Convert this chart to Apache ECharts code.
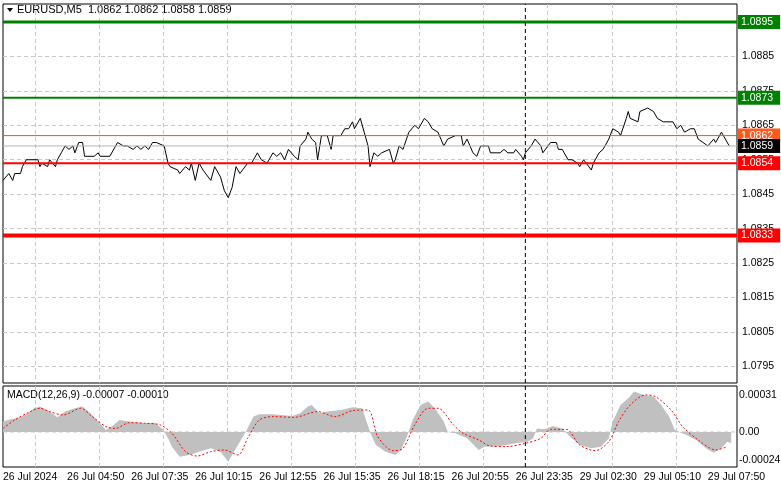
<!DOCTYPE html>
<html><head><meta charset="utf-8">
<script src="https://cdn.jsdelivr.net/npm/echarts@6/dist/echarts.min.js"></script>
<style>html,body{margin:0;padding:0;background:#fff}#c{width:781px;height:489px}</style>
</head><body><div id="c"></div>
<script>
const priceBars=[0,3,5,6,9,10,12,18,19,20,23,24,27,28,30,32,34,36,37,39,41,42,47,49,50,55,59,62,64,67,69,71,73,75,77,79,83,85,86,90,91,94,96,97,99,101,103,107,109,112,113,114,116,118,120,122,126,128,131,133,136,139,141,143,145,147,150,152,153,156,157,159,161,162,164,167,169,170,174,176,178,180,181,184,186,188,189,191,193,195,199,201,202,204,206,209,212,214,217,219,221,224,227,229,233,236,237,239,242,244,246,250,251,256,258,260,263,264,267,268,269,272,274,277,278,282,285,286,288,291,293,296,297,299,303,304,307,309,312,314,317,318,321,322,323,327,328,332,335,336,337,340,345,347,349,351,354,356,358,359,363,366,367,370,371,374];
const prices=[1.0849,1.0851,1.0849,1.0851,1.0851,1.0853,1.0855,1.0855,1.0853,1.0854,1.0853,1.0855,1.0853,1.0855,1.0857,1.0859,1.0858,1.0859,1.0857,1.0860,1.0860,1.0856,1.0856,1.0857,1.0856,1.0856,1.0860,1.0859,1.0859,1.0858,1.0859,1.0858,1.0859,1.0858,1.0860,1.0860,1.0859,1.0854,1.0853,1.0852,1.0851,1.0853,1.0852,1.0854,1.0849,1.0854,1.0852,1.0849,1.0853,1.0850,1.0848,1.0846,1.0844,1.0847,1.0853,1.0851,1.0854,1.0854,1.0857,1.0855,1.0854,1.0857,1.0856,1.0857,1.0855,1.0858,1.0856,1.0855,1.0859,1.0861,1.0863,1.0861,1.0860,1.0855,1.0862,1.0862,1.0858,1.0862,1.0862,1.0864,1.0864,1.0866,1.0864,1.0867,1.0863,1.0859,1.0853,1.0857,1.0856,1.0857,1.0858,1.0854,1.0855,1.0859,1.0858,1.0863,1.0865,1.0864,1.0867,1.0866,1.0864,1.0863,1.0859,1.0861,1.0862,1.0862,1.0859,1.0861,1.0857,1.0856,1.0859,1.0859,1.0857,1.0857,1.0858,1.0857,1.0857,1.0858,1.0856,1.0855,1.0857,1.0859,1.0861,1.0859,1.0857,1.0860,1.0860,1.0858,1.0858,1.0855,1.0855,1.0854,1.0853,1.0855,1.0852,1.0854,1.0857,1.0858,1.0861,1.0864,1.0863,1.0862,1.0867,1.0869,1.0867,1.0866,1.0869,1.0870,1.0869,1.0869,1.0867,1.0866,1.0866,1.0864,1.0865,1.0863,1.0864,1.0864,1.0861,1.0861,1.0859,1.0861,1.0860,1.0863,1.0862,1.0859];
const histBars=[0,4,9,13,16,19,24,28,32,37,41,45,49,53,56,60,65,73,78,82,85,87,91,96,101,107,112,116,118,122,125,129,132,139,149,153,157,159,163,167,174,180,185,189,192,197,202,205,208,211,215,219,223,227,229,233,239,245,248,256,264,270,273,275,279,283,288,292,297,303,308,312,314,318,322,325,330,335,339,343,346,352,357,362,366,370,373,375];
const histVals=[0.000087,0.000106,0.000123,0.000157,0.000199,0.000213,0.000171,0.000123,0.000171,0.000199,0.000213,0.000157,0.000087,0.000017,0.000045,0.0001,0.000087,0.000073,0.000078,0.00003,-0.000053,-0.000123,-0.000207,-0.000193,-0.000165,-0.000137,-0.000165,-0.000249,-0.000193,-0.000081,0,0.000129,0.000148,0.000148,0.000134,0.000157,0.000213,0.000227,0.000157,0.000171,0.000185,0.000207,0.000199,0,-0.000109,-0.000165,-0.000193,-0.000151,-0.000039,0.0001,0.000227,0.000255,0.000185,0.000087,0,-0.000011,-0.000053,-0.000151,-0.000123,-0.000118,-0.000095,-0.000081,-0.000053,0.00003,0.000022,0.00005,0.00003,-0.000039,-0.000109,-0.000137,-0.000123,-0.000053,0.000087,0.000227,0.000283,0.000339,0.000311,0.000297,0.000227,0.000129,0.000017,-0.000025,-0.000067,-0.000137,-0.000174,-0.000137,-0.000081,-0.000095];
const sigBars=[0,6,14,19,24,31,40,46,53,58,65,73,81,87,94,100,107,114,121,126,132,139,150,162,171,180,188,193,201,206,212,219,224,232,237,245,251,259,269,277,282,290,297,305,312,317,323,331,336,344,350,358,367,373];
const sigVals=[0.00003,0.0001,0.000171,0.000199,0.000171,0.000143,0.000199,0.000129,0.000045,0.00003,0.000078,0.000073,0.000059,-0.000011,-0.000165,-0.000202,-0.000165,-0.000151,-0.000193,-0.000053,0.0001,0.000129,0.000123,0.000171,0.000129,0.000179,0.000185,-0.000039,-0.000157,-0.000137,0.000059,0.000199,0.000199,0.000059,-0.000011,-0.000067,-0.000118,-0.000123,-0.000095,-0.000053,0.000022,0.000022,-0.000109,-0.000157,-0.000081,0.000087,0.000227,0.000311,0.000297,0.000185,0.000045,-0.000067,-0.000151,-0.000123];
const timeLabels=['26 Jul 2024','26 Jul 04:50','26 Jul 07:35','26 Jul 10:15','26 Jul 12:55','26 Jul 15:35','26 Jul 18:15','26 Jul 20:55','26 Jul 23:35','29 Jul 02:30','29 Jul 05:10','29 Jul 07:50'];
const priceTicks=[1.0795,1.0805,1.0815,1.0825,1.0835,1.0845,1.0855,1.0865,1.0875,1.0885,1.0895];
const macdTicks=[-0.00024,0,0.00031];
const levels=[
 {v:1.0895,c:'#008000',w:3,bg:'#008000'},
 {v:1.0873,c:'#008000',w:2,bg:'#008000'},
 {v:1.0862,c:'#ff4a14',w:1,bg:'#ff5a1e'},
 {v:1.0859,c:'#b4b4b4',w:1,bg:'#000000'},
 {v:1.0854,c:'#ff0000',w:2,bg:'#ff0000'},
 {v:1.0833,c:'#ff0000',w:4,bg:'#ff0000'}];
const sepBar=269, maxBar=378;
const pMin=1.07902,pMax=1.09002,mMin=-0.000294,mMax=0.000386;
const labelPos=timeLabels.map((_,i)=>i*33);
const gridPos=timeLabels.map((_,i)=>16.5+i*33);
const F='Liberation Sans';
const chart=echarts.init(document.getElementById('c'));
const grid0={left:3,right:44,top:4,height:379,show:true,borderColor:'#000',borderWidth:1,containLabel:false,outerBoundsMode:'none'};
const grid1={left:3,right:44,top:386,height:81,show:true,borderColor:'#000',borderWidth:1,containLabel:false,outerBoundsMode:'none'};
const xBase=(gi)=>({type:'value',gridIndex:gi,min:0,max:maxBar,
 axisLine:{show:false},
 axisTick:{show:false,customValues:gridPos},
 splitLine:{show:true,lineStyle:{color:'#c8c8c8',type:[4,3],width:1}},
 axisLabel:{show:false}});
const x1=xBase(1);
x1.axisLabel={show:true,customValues:labelPos,formatter:(v)=>timeLabels[Math.round(v/33)],align:'left',color:'#000',fontFamily:F,fontSize:10.5,margin:5};
const levelSeries=levels.map(l=>({type:'line',xAxisIndex:0,yAxisIndex:0,data:[[0,l.v],[maxBar,l.v]],symbol:'none',silent:true,
  lineStyle:{color:l.c,width:l.w},z:6,clip:false,
  endLabel:{show:true,formatter:l.v.toFixed(4),color:'#fff',backgroundColor:l.bg,padding:[2,7,1,3],fontFamily:F,fontSize:10.5,distance:1}}));
chart.setOption({
 animation:false,
 grid:[grid0,grid1],
 xAxis:[xBase(0),x1],
 yAxis:[
  {type:'value',gridIndex:0,position:'right',min:pMin,max:pMax,
   axisLine:{show:false},axisTick:{show:false,customValues:priceTicks},
   splitLine:{show:true,lineStyle:{color:'#c8c8c8',type:[4,3]}},
   axisLabel:{customValues:priceTicks,formatter:v=>v.toFixed(4),color:'#000',fontFamily:F,fontSize:10.5,align:'left',margin:5}},
  {type:'value',gridIndex:1,position:'right',min:mMin,max:mMax,
   axisLine:{show:false},axisTick:{show:false,customValues:macdTicks},
   splitLine:{show:false},
   axisLabel:{customValues:macdTicks,formatter:v=>v===0?'0.00':v.toFixed(5),color:'#000',fontFamily:F,fontSize:10.5,align:'left',margin:2}}
 ],
 graphic:[
  {type:'polygon',shape:{points:[[7,8],[13,8],[10,12]]},style:{fill:'#000'}},
  {type:'text',left:17,top:4,style:{text:'EURUSD,M5  1.0862 1.0862 1.0858 1.0859',font:'11px '+F,fill:'#000'}},
  {type:'text',left:7,top:390,style:{text:'MACD(12,26,9) -0.00007 -0.00010',font:'10.5px '+F,fill:'#000'}}
 ],
 series:[
  {type:'line',xAxisIndex:0,yAxisIndex:0,data:priceBars.map((b,i)=>[b,prices[i]]),symbol:'none',
   lineStyle:{color:'#000',width:1},z:5},
  {type:'line',xAxisIndex:0,yAxisIndex:0,data:[[sepBar,pMin],[sepBar,pMax]],symbol:'none',silent:true,
   lineStyle:{color:'#000',width:1,type:[4,3]},z:7},
  {type:'line',xAxisIndex:1,yAxisIndex:1,data:histBars.map((b,i)=>[b,histVals[i]]),symbol:'none',
   lineStyle:{width:0},areaStyle:{color:'#c0c0c0',opacity:1},z:2},
  {type:'line',xAxisIndex:1,yAxisIndex:1,data:[[0,0],[maxBar,0]],symbol:'none',silent:true,
   lineStyle:{color:'#c8c8c8',width:1,type:[4,3]},z:1},
  {type:'line',xAxisIndex:1,yAxisIndex:1,data:[[sepBar,mMin],[sepBar,mMax]],symbol:'none',silent:true,
   lineStyle:{color:'#000',width:1,type:[4,3]},z:7},
  {type:'line',xAxisIndex:1,yAxisIndex:1,data:sigBars.map((b,i)=>[b,sigVals[i]]),symbol:'none',smooth:0.3,
   lineStyle:{color:'#ff0000',width:1,type:[2,2]},z:4}
 ].concat(levelSeries)
});
</script></body></html>
